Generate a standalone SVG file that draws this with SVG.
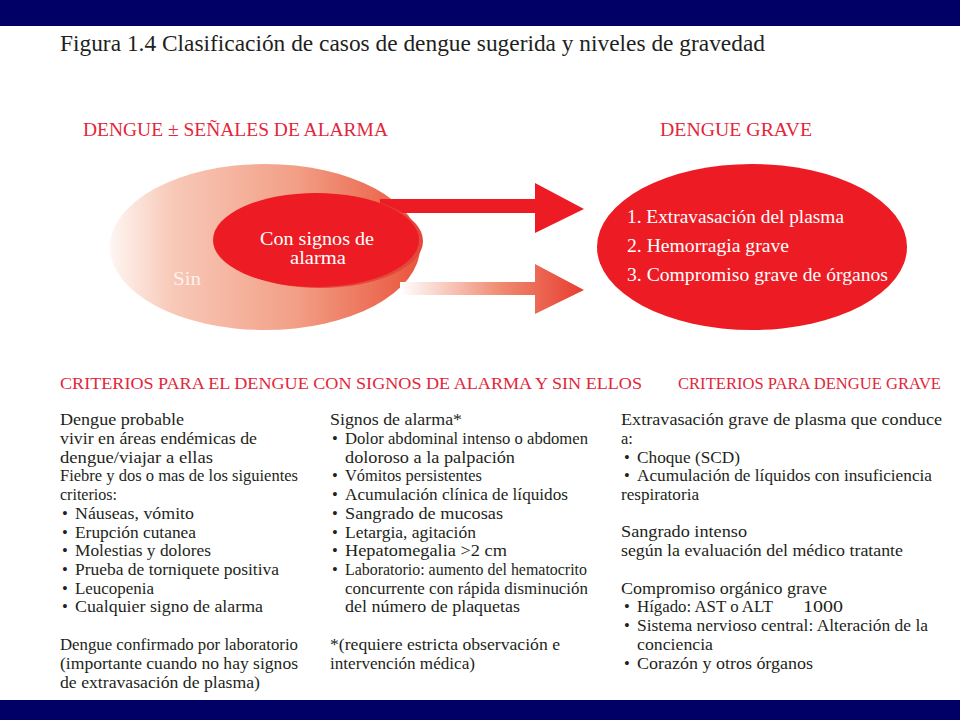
<svg xmlns="http://www.w3.org/2000/svg" width="960" height="720" viewBox="0 0 960 720">
<defs>
<linearGradient id="gOuter" x1="110" y1="0" x2="420" y2="0" gradientUnits="userSpaceOnUse">
<stop offset="0" stop-color="#fef6f2"/>
<stop offset="0.2" stop-color="#f8c9b8"/>
<stop offset="0.6" stop-color="#f29f86"/>
<stop offset="1" stop-color="#e9553c"/>
</linearGradient>
<linearGradient id="gArrow" x1="400" y1="0" x2="584" y2="0" gradientUnits="userSpaceOnUse">
<stop offset="0" stop-color="#ffffff"/>
<stop offset="0.55" stop-color="#ef8a70"/>
<stop offset="1" stop-color="#e73d30"/>
</linearGradient>
<style>
.t{font-family:"Liberation Serif","Times New Roman",serif;fill:#231f20;font-size:16.5px}
.h{font-family:"Liberation Serif","Times New Roman",serif;fill:#e3263b;font-size:17.5px}
.w{font-family:"Liberation Serif","Times New Roman",serif;fill:#ffffff;font-size:18px}
.bar{fill:#000066}
</style>
</defs>
<rect width="960" height="720" fill="#ffffff"/>
<rect class="bar" x="0" y="0" width="960" height="26"/>
<rect class="bar" x="0" y="700" width="960" height="20"/>

<text id="title" class="t" x="60" y="51" style="font-size:24px" textLength="705" lengthAdjust="spacingAndGlyphs">Figura 1.4 Clasificación de casos de dengue sugerida y niveles de gravedad</text>

<g id="hdr-left"><text class="h" x="83" y="136" style="font-size:18px" textLength="305" lengthAdjust="spacingAndGlyphs">DENGUE ± SEÑALES DE ALARMA</text></g>
<g id="hdr-right"><text class="h" x="660" y="136" style="font-size:18px" textLength="152" lengthAdjust="spacingAndGlyphs">DENGUE GRAVE</text></g>

<g id="sin">
<ellipse cx="265" cy="247" rx="155" ry="83" fill="url(#gOuter)"/>
<text class="w" x="173" y="285" style="fill:#fff1ec" textLength="28" lengthAdjust="spacingAndGlyphs">Sin</text>
</g>

<g id="connectors">
<polygon points="380,199 535,199 535,183 584,209 535,233 535,213 380,213" fill="#ed1c24"/>
<polygon points="400,282 535,282 535,264 584,290 535,314 535,295 400,295" fill="url(#gArrow)"/>
</g>

<g id="con">
<ellipse cx="320" cy="241" rx="103" ry="47" fill="#e5473a"/>
<ellipse cx="316" cy="240" rx="103" ry="47" fill="#ed1c24"/>
<text class="w" x="260" y="245" textLength="114" lengthAdjust="spacingAndGlyphs">Con signos de</text>
<text class="w" x="290" y="264" textLength="56" lengthAdjust="spacingAndGlyphs">alarma</text>
</g>

<g id="grave">
<ellipse cx="752" cy="247" rx="155" ry="83" fill="#ed1c24"/>
<text class="w" x="627" y="223" style="font-size:19px" textLength="217" lengthAdjust="spacingAndGlyphs">1. Extravasación del plasma</text>
<text class="w" x="627" y="252" style="font-size:19px" textLength="162" lengthAdjust="spacingAndGlyphs">2. Hemorragia grave</text>
<text class="w" x="627" y="281" style="font-size:19px" textLength="261" lengthAdjust="spacingAndGlyphs">3. Compromiso grave de órganos</text>
</g>

<g id="hdr-criterios">
<text class="h" x="60" y="389" textLength="582" lengthAdjust="spacingAndGlyphs">CRITERIOS PARA EL DENGUE CON SIGNOS DE ALARMA Y SIN ELLOS</text>
<text class="h" x="678" y="389" textLength="263" lengthAdjust="spacingAndGlyphs">CRITERIOS PARA DENGUE GRAVE</text>
</g>

<g id="col-left">
<text class="t" x="60" y="425" textLength="124" lengthAdjust="spacingAndGlyphs">Dengue probable</text>
<text class="t" x="60" y="444" textLength="197" lengthAdjust="spacingAndGlyphs">vivir en áreas endémicas de</text>
<text class="t" x="60" y="463" textLength="153" lengthAdjust="spacingAndGlyphs">dengue/viajar a ellas</text>
<text class="t" x="60" y="481" textLength="238" lengthAdjust="spacingAndGlyphs">Fiebre y dos  o mas de los siguientes</text>
<text class="t" x="60" y="500" textLength="57" lengthAdjust="spacingAndGlyphs">criterios:</text>
<text class="t" x="62" y="519">•</text><text class="t" x="75" y="519" textLength="119" lengthAdjust="spacingAndGlyphs">Náuseas, vómito</text>
<text class="t" x="62" y="538">•</text><text class="t" x="75" y="538" textLength="121" lengthAdjust="spacingAndGlyphs">Erupción cutanea</text>
<text class="t" x="62" y="556">•</text><text class="t" x="75" y="556" textLength="136" lengthAdjust="spacingAndGlyphs">Molestias y dolores</text>
<text class="t" x="62" y="575">•</text><text class="t" x="75" y="575" textLength="204" lengthAdjust="spacingAndGlyphs">Prueba de torniquete positiva</text>
<text class="t" x="62" y="594">•</text><text class="t" x="75" y="594" textLength="79" lengthAdjust="spacingAndGlyphs">Leucopenia</text>
<text class="t" x="62" y="612">•</text><text class="t" x="75" y="612" textLength="188" lengthAdjust="spacingAndGlyphs">Cualquier signo de alarma</text>
<text class="t" x="60" y="650" textLength="238" lengthAdjust="spacingAndGlyphs">Dengue confirmado por laboratorio</text>
<text class="t" x="60" y="669" textLength="238" lengthAdjust="spacingAndGlyphs">(importante cuando no hay signos</text>
<text class="t" x="60" y="688" textLength="200" lengthAdjust="spacingAndGlyphs">de extravasación de plasma)</text>
</g>

<g id="col-mid">
<text class="t" x="330" y="425" textLength="132" lengthAdjust="spacingAndGlyphs">Signos de alarma*</text>
<text class="t" x="332" y="444">•</text><text class="t" x="345" y="444" textLength="243" lengthAdjust="spacingAndGlyphs">Dolor abdominal intenso o abdomen</text>
<text class="t" x="345" y="463" textLength="170" lengthAdjust="spacingAndGlyphs">doloroso a la palpación</text>
<text class="t" x="332" y="481">•</text><text class="t" x="345" y="481" textLength="137" lengthAdjust="spacingAndGlyphs">Vómitos persistentes</text>
<text class="t" x="332" y="500">•</text><text class="t" x="345" y="500" textLength="223" lengthAdjust="spacingAndGlyphs">Acumulación clínica de líquidos</text>
<text class="t" x="332" y="519">•</text><text class="t" x="345" y="519" textLength="158" lengthAdjust="spacingAndGlyphs">Sangrado de mucosas</text>
<text class="t" x="332" y="538">•</text><text class="t" x="345" y="538" textLength="131" lengthAdjust="spacingAndGlyphs">Letargia, agitación</text>
<text class="t" x="332" y="556">•</text><text class="t" x="345" y="556" textLength="162" lengthAdjust="spacingAndGlyphs">Hepatomegalia &gt;2 cm</text>
<text class="t" x="332" y="575">•</text><text class="t" x="345" y="575" textLength="242" lengthAdjust="spacingAndGlyphs">Laboratorio: aumento del hematocrito</text>
<text class="t" x="345" y="594" textLength="243" lengthAdjust="spacingAndGlyphs">concurrente con rápida disminución</text>
<text class="t" x="345" y="612" textLength="175" lengthAdjust="spacingAndGlyphs">del número de plaquetas</text>
<text class="t" x="330" y="650" textLength="230" lengthAdjust="spacingAndGlyphs">*(requiere estricta observación e</text>
<text class="t" x="330" y="669" textLength="145" lengthAdjust="spacingAndGlyphs">intervención médica)</text>
</g>

<g id="col-right">
<text class="t" x="621" y="425" textLength="321" lengthAdjust="spacingAndGlyphs">Extravasación grave de plasma que conduce</text>
<text class="t" x="621" y="444">a:</text>
<text class="t" x="624" y="463">•</text><text class="t" x="637" y="463" textLength="103" lengthAdjust="spacingAndGlyphs">Choque (SCD)</text>
<text class="t" x="624" y="481">•</text><text class="t" x="637" y="481" textLength="295" lengthAdjust="spacingAndGlyphs">Acumulación de líquidos con insuficiencia</text>
<text class="t" x="621" y="500" textLength="78" lengthAdjust="spacingAndGlyphs">respiratoria</text>
<text class="t" x="621" y="537" textLength="126" lengthAdjust="spacingAndGlyphs">Sangrado intenso</text>
<text class="t" x="621" y="556" textLength="282" lengthAdjust="spacingAndGlyphs">según la evaluación del médico tratante</text>
<text class="t" x="621" y="594" textLength="206" lengthAdjust="spacingAndGlyphs">Compromiso orgánico grave</text>
<text class="t" x="624" y="612">•</text><text class="t" x="637" y="612" textLength="136" lengthAdjust="spacingAndGlyphs">Hígado: AST o ALT</text><text class="t" x="803" y="612" textLength="40" lengthAdjust="spacingAndGlyphs">1000</text>
<text class="t" x="624" y="631">•</text><text class="t" x="637" y="631" textLength="291" lengthAdjust="spacingAndGlyphs">Sistema nervioso central: Alteración de la</text>
<text class="t" x="637" y="650" textLength="76" lengthAdjust="spacingAndGlyphs">conciencia</text>
<text class="t" x="624" y="669">•</text><text class="t" x="637" y="669" textLength="176" lengthAdjust="spacingAndGlyphs">Corazón y otros órganos</text>
</g>
</svg>
